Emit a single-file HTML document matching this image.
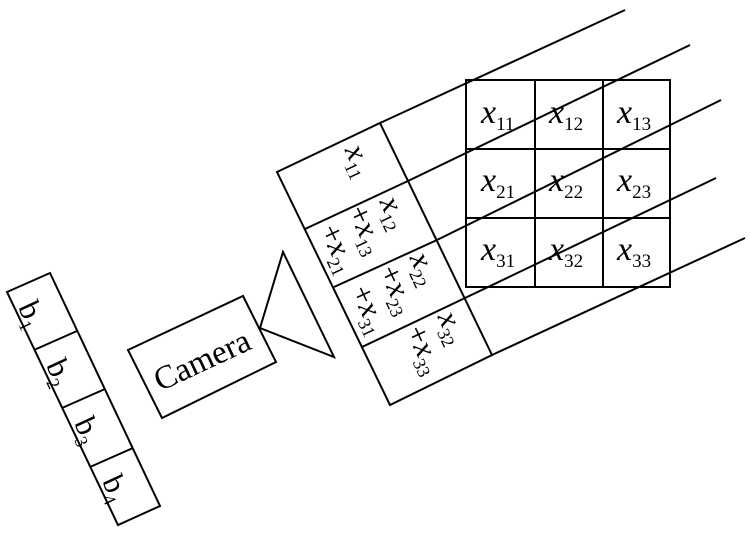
<!DOCTYPE html>
<html><head><style>body{margin:0;background:#fff}svg{display:block}text{font-family:"Liberation Serif",serif;fill:#000}</style></head><body>
<svg width="750" height="537" viewBox="0 0 750 537" xmlns="http://www.w3.org/2000/svg">
<g stroke="#000" stroke-width="2" fill="none">
<line x1="380" y1="123" x2="625" y2="10"/>
<line x1="408" y1="181" x2="690" y2="45"/>
<line x1="437" y1="240" x2="721" y2="100"/>
<line x1="465" y1="298" x2="716" y2="178"/>
<line x1="492" y1="355" x2="745" y2="238"/>
<rect x="466" y="80" width="204" height="207"/>
<line x1="535" y1="80" x2="535" y2="287"/>
<line x1="603" y1="80" x2="603" y2="287"/>
<line x1="466" y1="149" x2="670" y2="149"/>
<line x1="466" y1="218" x2="670" y2="218"/>
<polygon points="277,172 380,123 492,355 390,405" fill="#fff"/>
<line x1="305" y1="229" x2="408" y2="181"/>
<line x1="334" y1="287" x2="437" y2="240"/>
<line x1="362" y1="347" x2="465" y2="298"/>
<polygon points="260,328 283,252 334,357"/>
<polygon points="128,350 243,296 276,362 162,418"/>
<polygon points="7,292 50,273 160,506 118,525"/>
<line x1="34" y1="350" x2="77" y2="331"/>
<line x1="62" y1="408" x2="105" y2="389"/>
<line x1="90" y1="467" x2="133" y2="448"/>
</g>
<g font-style="italic" font-size="34">
<text x="481" y="123">x<tspan font-style="normal" font-size="19" dy="7">11</tspan></text>
<text x="549" y="123">x<tspan font-style="normal" font-size="19" dy="7">12</tspan></text>
<text x="617" y="123">x<tspan font-style="normal" font-size="19" dy="7">13</tspan></text>
<text x="481" y="191">x<tspan font-style="normal" font-size="19" dy="7">21</tspan></text>
<text x="549" y="191">x<tspan font-style="normal" font-size="19" dy="7">22</tspan></text>
<text x="617" y="191">x<tspan font-style="normal" font-size="19" dy="7">23</tspan></text>
<text x="481" y="260">x<tspan font-style="normal" font-size="19" dy="7">31</tspan></text>
<text x="549" y="260">x<tspan font-style="normal" font-size="19" dy="7">32</tspan></text>
<text x="617" y="260">x<tspan font-style="normal" font-size="19" dy="7">33</tspan></text>
</g>
<g font-size="31" text-anchor="middle">
<text transform="translate(360,160) rotate(65)" dy="10"><tspan font-style="italic">x</tspan><tspan font-size="18" dy="7">11</tspan></text>
<text transform="translate(395,212) rotate(65)" dy="10"><tspan font-style="italic">x</tspan><tspan font-size="18" dy="7">12</tspan></text>
<text transform="translate(367,229) rotate(65)" dy="10">+<tspan font-style="italic">x</tspan><tspan font-size="18" dy="7">13</tspan></text>
<text transform="translate(339,248) rotate(65)" dy="10">+<tspan font-style="italic">x</tspan><tspan font-size="18" dy="7">21</tspan></text>
<text transform="translate(425,268) rotate(65)" dy="10"><tspan font-style="italic">x</tspan><tspan font-size="18" dy="7">22</tspan></text>
<text transform="translate(398,289) rotate(65)" dy="10">+<tspan font-style="italic">x</tspan><tspan font-size="18" dy="7">23</tspan></text>
<text transform="translate(370,309) rotate(65)" dy="10">+<tspan font-style="italic">x</tspan><tspan font-size="18" dy="7">31</tspan></text>
<text transform="translate(453,327) rotate(65)" dy="10"><tspan font-style="italic">x</tspan><tspan font-size="18" dy="7">32</tspan></text>
<text transform="translate(425,349) rotate(65)" dy="10">+<tspan font-style="italic">x</tspan><tspan font-size="18" dy="7">33</tspan></text>
</g>
<text transform="translate(202,360) rotate(-25)" text-anchor="middle" font-size="33" dy="11">Camera</text>
<g font-size="31" text-anchor="middle">
<text transform="translate(32,314) rotate(65)" dy="10">b<tspan font-size="18" dy="7">1</tspan></text>
<text transform="translate(60,372) rotate(65)" dy="10">b<tspan font-size="18" dy="7">2</tspan></text>
<text transform="translate(88,430) rotate(65)" dy="10">b<tspan font-size="18" dy="7">3</tspan></text>
<text transform="translate(116,488) rotate(65)" dy="10">b<tspan font-size="18" dy="7">4</tspan></text>
</g>
</svg>
</body></html>
